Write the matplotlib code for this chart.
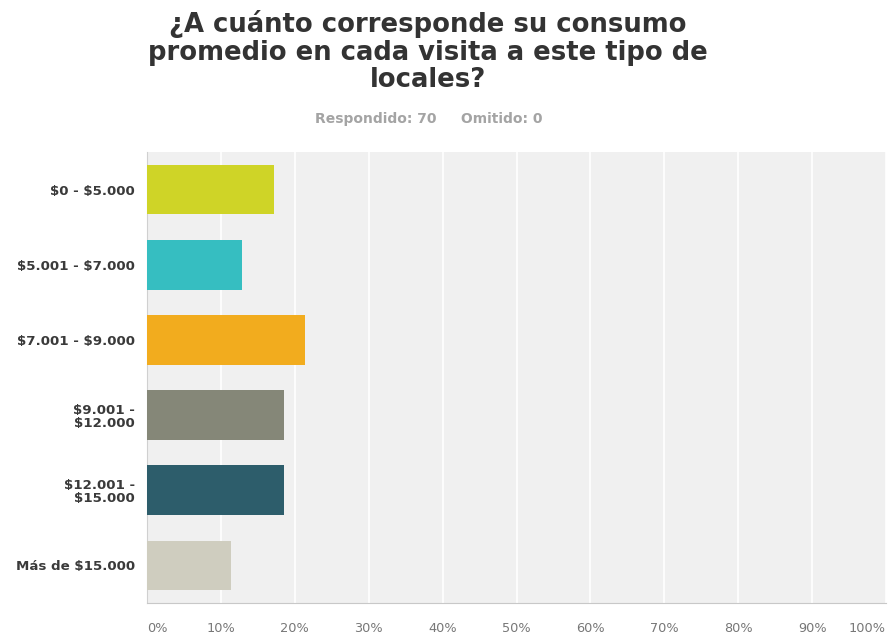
import matplotlib
matplotlib.use("Agg")
import matplotlib.pyplot as plt

# Survey results (70 respondents)
categories = ["$0 - $5.000", "$5.001 - $7.000", "$7.001 - $9.000",
              "$9.001 -\n$12.000", "$12.001 -\n$15.000", "Más de $15.000"]
counts = [12, 9, 15, 13, 13, 8]
answered = 70
skipped = 0
percentages = [c / answered * 100 for c in counts]
tick_values = list(range(0, 101, 10))
tick_labels = [f"{v}%" for v in tick_values]
title_lines = ["¿A cuánto corresponde su consumo",
               "promedio en cada visita a este tipo de",
               "locales?"]

colors = ["#cfd427", "#36bec1", "#f2ac1e", "#858778", "#2d5d6b", "#cfcdbf"]

plt.rcParams["font.family"] = ["DejaVu Sans"]
plt.rcParams["text.parse_math"] = False

W, H = 888, 635
fig = plt.figure(figsize=(W / 100, H / 100), dpi=100)
fig.patch.set_facecolor("white")

ax = fig.add_axes([147 / W, 32 / H, 739 / W, 451 / H])
ax.set_facecolor("#f0f0f0")

y = list(range(len(categories)))
ax.barh(y, percentages, height=0.66, color=colors, zorder=3)

ax.set_xlim(0, 100)
ax.set_ylim(len(categories) - 0.5, -0.5)

ax.set_xticks(tick_values)
ax.set_xticklabels(tick_labels, fontsize=9.3, color="#777777")
ax.xaxis.grid(True, color="white", linewidth=1.2, zorder=1)
ax.tick_params(axis="x", length=0, pad=13.5)
lbls = ax.get_xticklabels()
lbls[0].set_horizontalalignment("left")
lbls[-1].set_horizontalalignment("right")

ax.set_yticks(y)
ax.set_yticklabels(categories, fontsize=9.6, fontweight="bold", color="#3a3a3a",
                   linespacing=1.0)
ax.tick_params(axis="y", length=0, pad=8.5)

for side in ["top", "right"]:
    ax.spines[side].set_visible(False)
ax.spines["left"].set_color("#d0d0d0")
ax.spines["bottom"].set_color("#c8c8c8")

# Title, one line per text at fixed baselines
for line, base in zip(title_lines, [32, 59.5, 87]):
    fig.text(428 / W, 1 - base / H, line, ha="center", va="baseline",
             fontsize=18.6, fontweight="bold", color="#333333")

fig.text(429 / W, 1 - 123 / H,
         f"Respondido: {answered}     Omitido: {skipped}",
         ha="center", va="baseline", fontsize=10, fontweight="bold", color="#a4a4a4")

fig.savefig("out.png", dpi=100)
